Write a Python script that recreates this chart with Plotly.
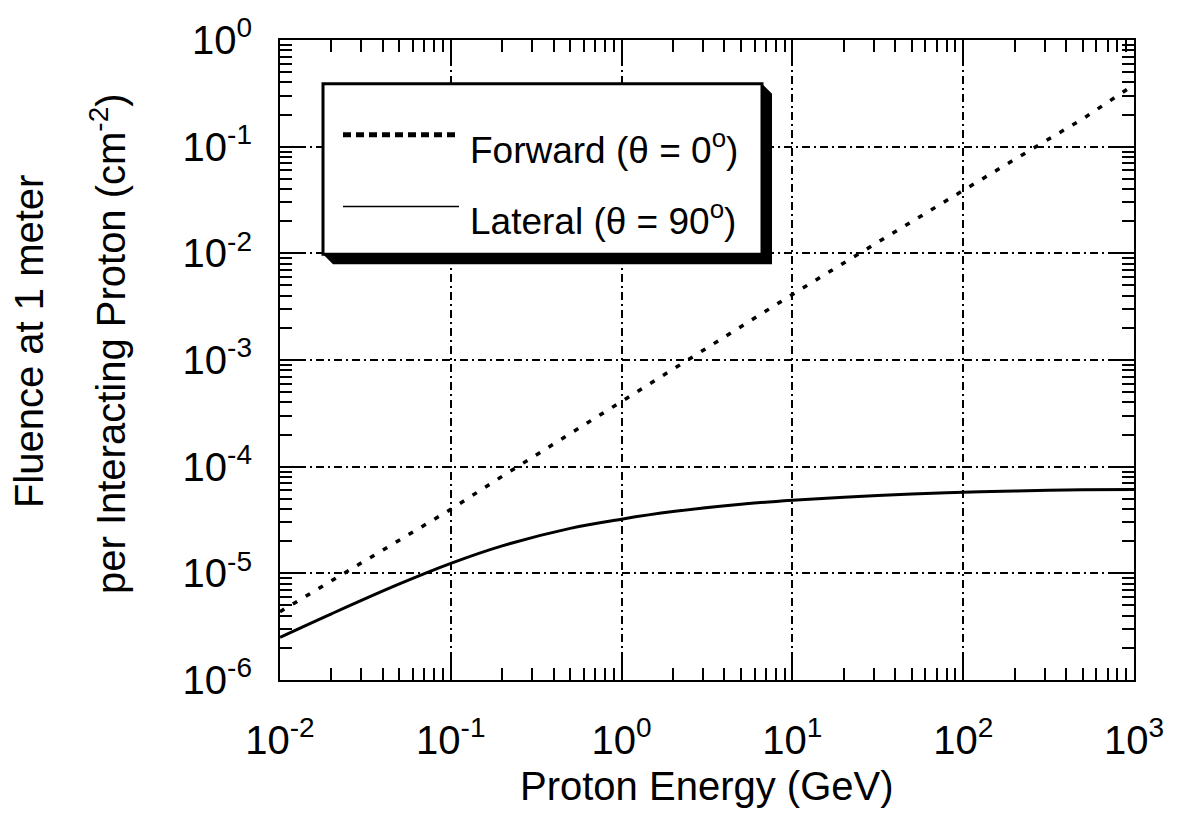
import plotly.graph_objects as go

# Data
energy_gev = [0.01, 0.02, 0.05, 0.1, 0.2, 0.5, 1, 2, 5, 10, 20, 50, 100, 200, 500, 1000]
forward_fluence = [4.37e-6, 8.51e-6, 2.04e-5, 3.98e-5, 8.13e-5, 2.04e-4, 4.17e-4, 8.32e-4,
                   2.09e-3, 4.12e-3, 8.13e-3, 0.0200, 0.0389, 0.0759, 0.182, 0.380]
lateral_fluence = [2.51e-6, 4.17e-6, 7.95e-6, 1.24e-5, 1.81e-5, 2.64e-5, 3.22e-5, 3.79e-5,
                   4.44e-5, 4.84e-5, 5.18e-5, 5.55e-5, 5.77e-5, 5.92e-5, 6.06e-5, 6.12e-5]

x_tickvals = [0.01, 0.1, 1, 10, 100, 1000]
x_ticktext = ["10<sup>-2</sup>", "10<sup>-1</sup>", "10<sup>0</sup>", "10<sup>1</sup>",
              "10<sup>2</sup>", "10<sup>3</sup>"]
y_tickvals = [1e-6, 1e-5, 1e-4, 1e-3, 1e-2, 1e-1, 1]
y_ticktext = ["10<sup>-6</sup>", "10<sup>-5</sup>", "10<sup>-4</sup>", "10<sup>-3</sup>",
              "10<sup>-2</sup>", "10<sup>-1</sup>", "10<sup>0</sup>"]

legend_labels = ["Forward (θ = 0<sup>o</sup>)", "Lateral (θ = 90<sup>o</sup>)"]
x_title = "Proton Energy (GeV)"
y_title_lines = ["Fluence at 1 meter", "per Interacting Proton (cm<sup>-2</sup>)"]

FONT = "Liberation Sans, Arial, Helvetica, sans-serif"
W, H = 1180, 816
L, R, T, B = 280, 1134, 38, 680


def px(x):
    return (x - L) / (R - L)


def py(y):
    return (B - y) / (B - T)


fig = go.Figure()
fig.add_trace(go.Scatter(x=energy_gev, y=forward_fluence, mode="lines",
                         line=dict(color="black", width=3.5, dash="5px,10px"),
                         name="Forward", showlegend=False))
fig.add_trace(go.Scatter(x=energy_gev, y=lateral_fluence, mode="lines",
                         line=dict(color="black", width=3, shape="spline"),
                         name="Lateral", showlegend=False))

axis_common = dict(
    type="log", showline=True, linecolor="black", linewidth=2, mirror="ticks",
    ticks="inside", ticklen=22, tickwidth=2, tickcolor="black",
    showgrid=True, gridcolor="black", gridwidth=1.5, griddash="8px,4px,2px,4px",
    zeroline=False,
    tickfont=dict(family=FONT, size=40, color="black"),
    minor=dict(ticks="inside", ticklen=12, tickwidth=1.5, tickcolor="black",
               dtick="D1", showgrid=False),
)

fig.update_xaxes(range=[-2, 3], tickmode="array", tickvals=x_tickvals, ticktext=x_ticktext,
                 ticklabelstandoff=24, **axis_common)
fig.update_yaxes(range=[-6, 0], tickmode="array", tickvals=y_tickvals, ticktext=y_ticktext,
                 ticklabelstandoff=18, **axis_common)

shapes = []
# legend shadow
x0, y0, x1, y1 = 323, 82, 762, 253
off = 10
shadow_path = (f"M {px(x1)},{py(y0)} L {px(x1+off)},{py(y0+off)} L {px(x1+off)},{py(y1+off)} "
               f"L {px(x0+off)},{py(y1+off)} L {px(x0)},{py(y1)} Z")
shapes.append(dict(type="path", xref="paper", yref="paper", path=shadow_path,
                   fillcolor="black", line=dict(width=0), layer="above"))
shapes.append(dict(type="rect", xref="paper", yref="paper",
                   x0=px(x0), x1=px(x1), y0=py(y1), y1=py(y0),
                   fillcolor="white", line=dict(color="black", width=3), layer="above"))
# legend samples
shapes.append(dict(type="line", xref="paper", yref="paper",
                   x0=px(343), x1=px(458), y0=py(133), y1=py(133),
                   line=dict(color="black", width=5, dash="8px,5px"), layer="above"))
shapes.append(dict(type="line", xref="paper", yref="paper",
                   x0=px(343), x1=px(459), y0=py(205), y1=py(205),
                   line=dict(color="black", width=1.5), layer="above"))

annotations = [
    dict(text=legend_labels[0], x=px(468), y=py(146), xref="paper", yref="paper",
         xanchor="left", yanchor="middle", showarrow=False,
         font=dict(family=FONT, size=37, color="black")),
    dict(text=legend_labels[1], x=px(468), y=py(217), xref="paper", yref="paper",
         xanchor="left", yanchor="middle", showarrow=False,
         font=dict(family=FONT, size=37, color="black")),
    dict(text=x_title, x=0.5, y=py(786), xref="paper", yref="paper",
         xanchor="center", yanchor="middle", showarrow=False,
         font=dict(family=FONT, size=40, color="black")),
    dict(text=y_title_lines[0], x=px(29), y=py(340), xref="paper", yref="paper",
         xanchor="center", yanchor="middle", textangle=-90, showarrow=False,
         font=dict(family=FONT, size=40, color="black")),
    dict(text=y_title_lines[1], x=px(108), y=py(343), xref="paper", yref="paper",
         xanchor="center", yanchor="middle", textangle=-90, showarrow=False,
         font=dict(family=FONT, size=40, color="black")),
]

fig.update_layout(
    width=W, height=H,
    margin=dict(l=L, r=W - R, t=T, b=H - B, pad=0),
    paper_bgcolor="white", plot_bgcolor="white",
    shapes=shapes, annotations=annotations, showlegend=False,
    font=dict(family=FONT, color="black"),
)

fig.write_html("out.html")
